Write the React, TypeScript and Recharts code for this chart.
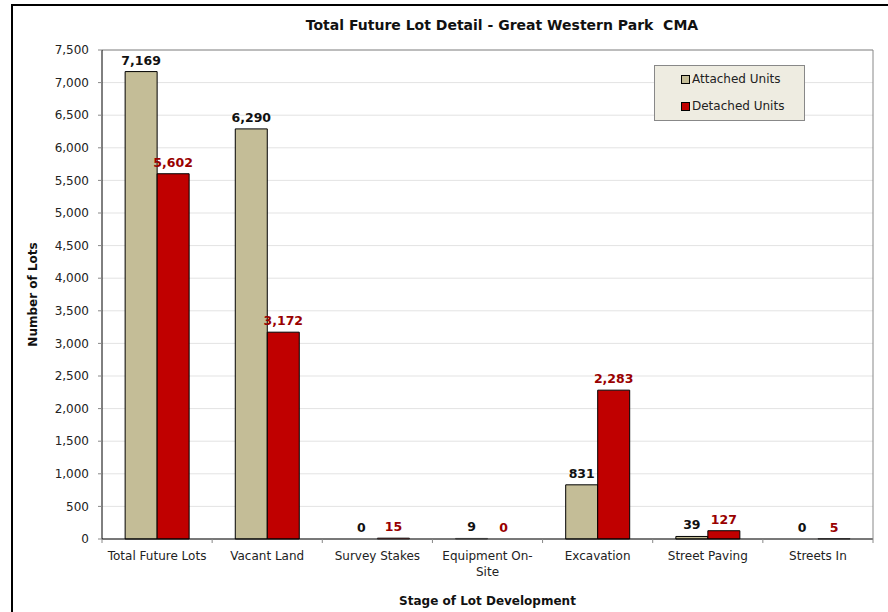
import * as React from "react";
import {
  BarChart,
  Bar,
  XAxis,
  YAxis,
  CartesianGrid,
  LabelList,
  Cell,
} from "recharts";

const stages = [
  "Total Future Lots",
  "Vacant Land",
  "Survey Stakes",
  "Equipment On-Site",
  "Excavation",
  "Street Paving",
  "Streets In",
];
const attachedUnits = [7169, 6290, 0, 9, 831, 39, 0];
const detachedUnits = [5602, 3172, 15, 0, 2283, 127, 5];
const yTicks = [0, 500, 1000, 1500, 2000, 2500, 3000, 3500, 4000, 4500, 5000, 5500, 6000, 6500, 7000, 7500];

const ATTACHED = "#C4BD97";
const DETACHED = "#C00000";
const FONT = "'DejaVu Sans', Tahoma, sans-serif";

const fmt = (v: any) => Number(v).toLocaleString("en-US");

// labels kept as strings so a value of 0 still gets printed
const chartData = stages.map((stage, i) => ({
  stage,
  attached: attachedUnits[i],
  detached: detachedUnits[i],
  attachedLabel: fmt(attachedUnits[i]),
  detachedLabel: fmt(detachedUnits[i]),
}));

// zero bars get a hair of height so recharts keeps them (and their label)
const keepZero = (value: any) => (Number(value) === 0 ? 0.01 : 0);

function splitLabel(label: string): string[] {
  if (label.length > 14 && label.includes("-")) {
    const i = label.indexOf("-") + 1;
    return [label.slice(0, i), label.slice(i)];
  }
  return [label];
}

function StageTick(props: any) {
  const { x, y, payload, index, visibleTicksCount } = props;
  const half = payload?.offset || 55;
  const axisY = y - 12;
  const lines = splitLabel(String(payload.value));
  return (
    <g>
      <line x1={x - half} x2={x - half} y1={axisY} y2={axisY + 4} stroke="#888" />
      {index === visibleTicksCount - 1 && (
        <line x1={x + half} x2={x + half} y1={axisY} y2={axisY + 4} stroke="#888" />
      )}
      <text x={x} y={y} textAnchor="middle" fontSize={12} fill="#222" fontFamily={FONT}>
        {lines.map((l, i) => (
          <tspan key={i} x={x} dy={i === 0 ? "0.71em" : 16.5}>
            {l}
          </tspan>
        ))}
      </text>
    </g>
  );
}

function LegendBox() {
  const items = [
    { label: "Attached Units", color: ATTACHED },
    { label: "Detached Units", color: DETACHED },
  ];
  return (
    <div
      style={{
        position: "absolute",
        left: 654,
        top: 65,
        width: 149,
        height: 54,
        background: "#EEECE1",
        border: "1px solid #888",
        fontFamily: FONT,
        fontSize: 12,
        color: "#222",
      }}
    >
      {items.map((it, i) => (
        <div
          key={it.label}
          style={{ position: "absolute", left: 26, top: 6 + i * 27, display: "flex", alignItems: "center" }}
        >
          <span
            style={{
              display: "inline-block",
              width: 7,
              height: 7,
              background: it.color,
              border: "1px solid #000",
              marginRight: 2,
            }}
          />
          <span>{it.label}</span>
        </div>
      ))}
    </div>
  );
}

export default function App() {
  return (
    <div
      style={{
        position: "absolute",
        left: 0,
        top: 0,
        width: 888,
        height: 612,
        overflow: "hidden",
        background: "#fff",
        fontFamily: FONT,
      }}
    >
      <div
        style={{
          position: "absolute",
          left: 11,
          top: 4,
          width: 900,
          height: 640,
          border: "2px solid #000",
        }}
      />
      <div
        style={{
          position: "absolute",
          left: 102,
          width: 800,
          top: 17,
          textAlign: "center",
          fontWeight: "bold",
          fontSize: 14,
          color: "#111",
          whiteSpace: "pre",
        }}
      >
        {"Total Future Lot Detail - Great Western Park  CMA"}
      </div>
      <div style={{ position: "absolute", left: 0, top: 0 }}>
        <BarChart
          width={888}
          height={612}
          data={chartData}
          margin={{ top: 0, right: 0, left: 0, bottom: 0 }}
          barCategoryGap="21%"
          barGap={0}
        >
          <CartesianGrid vertical={false} stroke="#E3E3E3" />
          <XAxis
            dataKey="stage"
            height={73}
            axisLine={{ stroke: "#000" }}
            tickLine={false}
            tickSize={4}
            tickMargin={8}
            interval={0}
            tick={<StageTick />}
            label={{
              value: "Stage of Lot Development",
              position: "insideBottom",
              offset: 7,
              style: { fontWeight: "bold", fontSize: 12, fill: "#111", fontFamily: FONT },
            }}
          />
          <XAxis
            xAxisId="top"
            dataKey="stage"
            orientation="top"
            height={50}
            axisLine={{ stroke: "#888" }}
            tick={false}
            tickLine={false}
          />
          <YAxis
            width={102}
            domain={[0, 7500]}
            ticks={yTicks}
            tickFormatter={fmt}
            axisLine={{ stroke: "#000" }}
            tickLine={{ stroke: "#888" }}
            tickSize={4}
            tickMargin={9}
            tick={{ fontSize: 12, fill: "#222", fontFamily: FONT }}
            label={{
              value: "Number of Lots",
              angle: -90,
              position: "insideLeft",
              offset: 33,
              style: { fontWeight: "bold", fontSize: 12, fill: "#111", fontFamily: FONT, textAnchor: "middle" },
            }}
          />
          <YAxis
            yAxisId="right"
            orientation="right"
            width={15}
            domain={[0, 7500]}
            axisLine={{ stroke: "#888" }}
            tick={false}
            tickLine={false}
          />
          <Bar
            dataKey="attached"
            name="Attached Units"
            fill={ATTACHED}
            stroke="#000"
            strokeWidth={1}
            minPointSize={keepZero}
            isAnimationActive={false}
          >
            {attachedUnits.map((v, i) => (
              <Cell key={i} stroke={v === 0 ? "none" : v < 20 ? "#777" : "#000"} />
            ))}
            <LabelList
              dataKey="attachedLabel"
              position="top"
              offset={7}
              style={{ fontWeight: "bold", fontSize: 12.5, fill: "#111", fontFamily: FONT }}
            />
          </Bar>
          <Bar
            dataKey="detached"
            name="Detached Units"
            fill={DETACHED}
            stroke="#000"
            strokeWidth={1}
            minPointSize={keepZero}
            isAnimationActive={false}
          >
            {detachedUnits.map((v, i) => (
              <Cell key={i} stroke={v === 0 ? "none" : v < 20 ? "#555" : "#000"} />
            ))}
            <LabelList
              dataKey="detachedLabel"
              position="top"
              offset={7}
              style={{ fontWeight: "bold", fontSize: 12.5, fill: "#990000", fontFamily: FONT }}
            />
          </Bar>
        </BarChart>
      </div>
      <LegendBox />
    </div>
  );
}
